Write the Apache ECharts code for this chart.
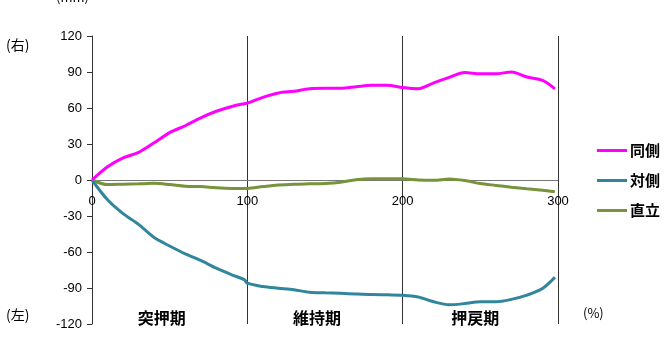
<!DOCTYPE html>
<html>
<head>
<meta charset="utf-8">
<script src="https://cdn.jsdelivr.net/npm/echarts@6/dist/echarts.min.js"></script>
<style>
  html, body { margin: 0; padding: 0; background: #fff; }
  #chart { width: 665px; height: 337px; }
</style>
</head>
<body>
<div id="chart"></div>
<script>
// x positions (%)
const xs = [0, 10, 20, 30, 40, 50, 60, 70, 80, 90, 98, 100, 110, 120, 130, 140, 150, 160, 170, 180, 190, 200, 210, 220, 230, 240, 250, 260, 270, 280, 290, 298];

// 同側 (mm)
const sameSide = [0, 11, 18.5, 23, 31, 39.5, 45.2, 51.8, 57.3, 61.3, 63.6, 64, 68.9, 72.5, 74, 76, 76.4, 76.4, 77.7, 79, 79, 77, 76, 81, 85.5, 89.5, 88.5, 88.5, 90, 85.8, 83, 76];
// 対側 (mm)
const oppositeSide = [0, -16.5, -28, -37, -48, -55, -61.5, -67, -73.5, -79, -83, -86, -88.8, -90.2, -91.5, -93.5, -94, -94.4, -95, -95.5, -95.7, -96, -97.5, -101.5, -104, -103, -101.5, -101.5, -99.5, -96, -90.5, -81];
// 直立 (mm)
const upright = [0, -3.8, -3.5, -3.2, -2.8, -3.8, -5.2, -5.5, -6.5, -7, -7, -7, -5.5, -4.2, -3.5, -3.2, -2.9, -1.8, 0.3, 1, 1, 1, 0, -0.3, 0.8, -0.5, -3, -4.5, -6, -7.3, -8.5, -9.7];

const seriesNames = ['同側', '対側', '直立'];
const seriesColors = ['#FF00FF', '#31859C', '#77933C'];
const yTicks = { min: -120, max: 120, step: 30 };
const xTicks = { min: 0, max: 300, step: 100 };
const phaseLabels = ['突押期', '維持期', '押戻期'];

const font = '"Noto Sans CJK JP", "Noto Sans", sans-serif';

const pairs = (ys) => xs.map((x, i) => [x, ys[i]]);

const chart = echarts.init(document.getElementById('chart'));

const gridLeft = 92, gridRight = 107, gridTop = 36, gridBottom = 13;
const plotW = 665 - gridLeft - gridRight;
const plotH = 337 - gridTop - gridBottom;

const option = {
  animation: false,
  textStyle: { fontFamily: font },
  grid: {
    left: gridLeft, right: gridRight, top: gridTop, bottom: gridBottom,
    containLabel: false, outerBoundsMode: 'none'
  },
  legend: {
    orient: 'vertical',
    left: 592,
    top: 138,
    itemWidth: 30,
    itemHeight: 3,
    itemGap: 15,
    icon: 'rect',
    textStyle: { fontSize: 15, fontWeight: 'bold', color: '#000', fontFamily: font, padding: [0, 0, 0, -2] },
    data: seriesNames
  },
  xAxis: [
    {
      // axis drawn through y = 0 (middle of the plot)
      type: 'value',
      min: xTicks.min,
      max: xTicks.max,
      interval: xTicks.step,
      position: 'bottom',
      offset: -plotH / 2,
      axisLine: { onZero: false, lineStyle: { color: '#777', width: 1 } },
      axisTick: { show: false },
      axisLabel: { fontSize: 13, color: '#000', margin: 15, fontFamily: 'Liberation Sans, sans-serif' },
      splitLine: { show: true, lineStyle: { color: '#333', width: 1 } }
    }
  ],
  yAxis: {
    type: 'value',
    min: yTicks.min,
    max: yTicks.max,
    interval: yTicks.step,
    axisLine: { show: true, lineStyle: { color: '#333', width: 1 } },
    axisTick: { show: true, length: 5, lineStyle: { color: '#333' } },
    axisLabel: { fontSize: 13, color: '#000', margin: 10, fontFamily: 'Liberation Sans, sans-serif' },
    splitLine: { show: false }
  },
  graphic: [
    { type: 'text', left: 56, top: -9, style: { text: '(mm)', fontSize: 13, fill: '#000', fontFamily: font } },
    { type: 'text', left: 6, top: 38, style: { text: '(右)', fontSize: 14, fill: '#000', fontFamily: font } },
    { type: 'text', left: 6, top: 308, style: { text: '(左)', fontSize: 14, fill: '#000', fontFamily: font } },
    { type: 'text', left: 583, top: 307, style: { text: '(%)', fontSize: 13, fill: '#000', fontFamily: font } }
  ].concat(phaseLabels.map((t, i) => ({
    type: 'text',
    x: gridLeft + plotW * (i + 0.5) / 3 - 8 + (i === 2 ? 3 : 0),
    y: 318,
    style: { text: t, fontSize: 16, fontWeight: 'bold', fill: '#000', align: 'center', verticalAlign: 'middle', fontFamily: font }
  }))),
  series: [
    { name: seriesNames[0], data: pairs(sameSide) },
    { name: seriesNames[1], data: pairs(oppositeSide) },
    { name: seriesNames[2], data: pairs(upright) }
  ].map((s, i) => ({
    name: s.name,
    type: 'line',
    data: s.data,
    smooth: 0.3,
    showSymbol: false,
    itemStyle: { color: seriesColors[i] },
    lineStyle: { width: 3, color: seriesColors[i] },
    z: 3 - i
  }))
};

chart.setOption(option);
</script>
</body>
</html>
